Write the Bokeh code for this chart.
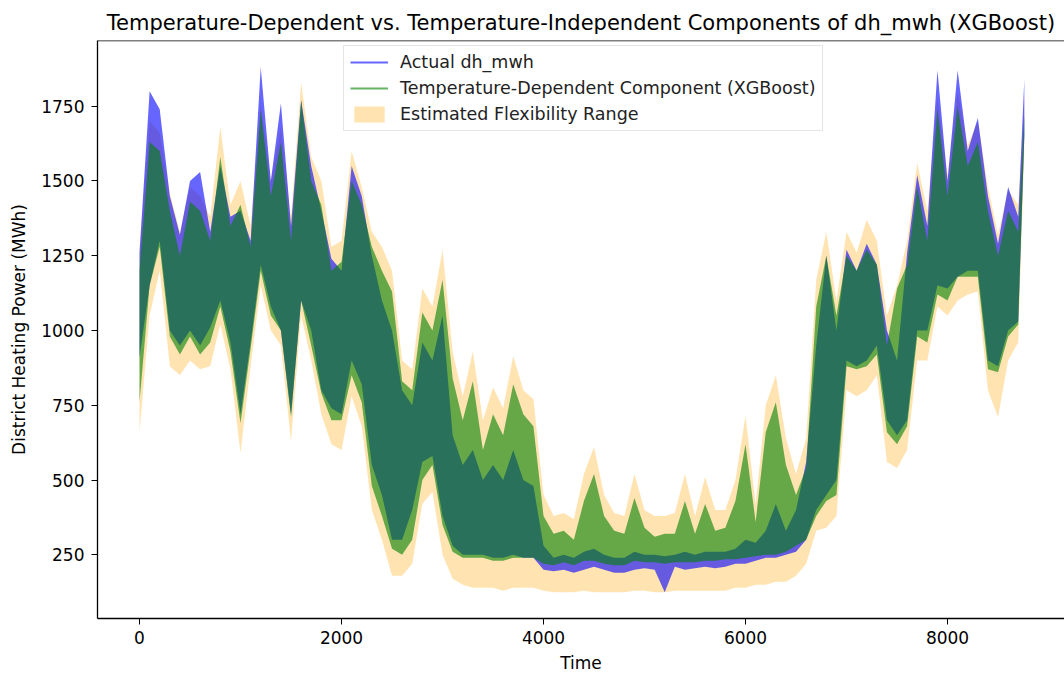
from bokeh.plotting import figure
from bokeh.models import Range1d, FixedTicker, Span, Legend, LegendItem, ColumnDataSource
from bokeh.embed import file_html
from bokeh.resources import INLINE

# ---- data (hourly index, envelope of each series) ----
hours = [0, 100, 200, 300, 400, 500, 600, 700, 800, 900,
         1000, 1100, 1200, 1300, 1400, 1500, 1600, 1700, 1800, 1900,
         2000, 2100, 2200, 2300, 2400, 2500, 2600, 2700, 2800, 2900,
         3000, 3100, 3200, 3300, 3400, 3500, 3600, 3700, 3800, 3900,
         4000, 4100, 4200, 4300, 4400, 4500, 4600, 4700, 4800, 4900,
         5000, 5100, 5200, 5300, 5400, 5500, 5600, 5700, 5800, 5900,
         6000, 6100, 6200, 6300, 6400, 6500, 6600, 6700, 6800, 6900,
         7000, 7100, 7200, 7300, 7400, 7500, 7600, 7700, 7800, 7900,
         8000, 8100, 8200, 8300, 8400, 8500, 8600, 8700, 8760]

actual_lo = [910, 1150, 1300, 1000, 950, 1000, 950, 1010, 1100, 960,
             720, 960, 1220, 1080, 1000, 720, 1100, 1000, 800, 740,
             720, 900, 820, 550, 450, 300, 300, 400, 560, 580,
             380, 280, 250, 250, 250, 240, 240, 250, 240, 240,
             200, 195, 200, 190, 200, 210, 200, 190, 190, 200,
             205, 200, 125, 210, 200, 205, 210, 205, 210, 220,
             220, 230, 240, 240, 250, 260, 300, 400, 450, 500,
             900, 880, 900, 950, 700, 650, 700, 1000, 1000, 1150,
             1140, 1180, 1200, 1200, 900, 880, 1000, 1030, 1650]
actual_hi = [1260, 1800, 1740, 1450, 1320, 1500, 1530, 1330, 1550, 1380,
             1400, 1300, 1880, 1500, 1760, 1350, 1770, 1550, 1400, 1240,
             1200, 1550, 1450, 1250, 1100, 1000, 800, 750, 960, 900,
             1050, 650, 550, 600, 500, 550, 500, 600, 500, 480,
             280, 240, 250, 240, 260, 270, 250, 240, 240, 260,
             250, 250, 245, 250, 260, 250, 260, 260, 260, 270,
             300, 290, 330, 420, 330, 400, 560, 950, 1250, 1000,
             1270, 1200, 1290, 1220, 1000, 900, 1260, 1520, 1350, 1870,
             1500, 1870, 1600, 1710, 1450, 1290, 1480, 1380, 1840]

tempdep_lo = [760, 1150, 1280, 980, 920, 980, 920, 960, 1080, 930,
              690, 940, 1200, 1050, 1000, 710, 1100, 950, 790, 700,
              700, 850, 760, 480, 380, 270, 250, 300, 500, 550,
              350, 260, 240, 240, 240, 230, 230, 240, 240, 240,
              220, 215, 225, 215, 230, 230, 220, 215, 215, 230,
              225, 225, 220, 225, 225, 225, 230, 230, 235, 235,
              240, 245, 250, 250, 260, 280, 300, 380, 430, 450,
              880, 870, 880, 920, 660, 620, 680, 980, 960, 1120,
              1100, 1180, 1180, 1180, 870, 860, 980, 1020, 1650]
tempdep_hi = [1200, 1630, 1600, 1400, 1250, 1430, 1400, 1300, 1580, 1350,
              1420, 1280, 1740, 1450, 1630, 1300, 1770, 1500, 1420, 1200,
              1230, 1500, 1420, 1280, 1200, 1130, 830, 800, 1060, 1000,
              1170, 840, 700, 830, 600, 720, 650, 820, 720, 680,
              380, 320, 330, 300, 430, 520, 380, 330, 320, 440,
              340, 310, 320, 320, 430, 320, 420, 330, 340, 430,
              620, 360, 660, 760, 550, 450, 540, 1080, 1250, 1050,
              1250, 1200, 1270, 1220, 950, 1140, 1220, 1480, 1300, 1740,
              1450, 1750, 1550, 1630, 1400, 1250, 1400, 1330, 1720]

flex_lo = [660, 1050, 1200, 880, 850, 900, 870, 880, 1020, 870,
           590, 880, 1150, 1000, 950, 630, 1050, 900, 720, 620,
           600, 780, 680, 400, 300, 180, 180, 220, 420, 460,
           250, 170, 150, 140, 140, 140, 130, 140, 140, 140,
           130, 125, 125, 125, 130, 125, 125, 125, 125, 130,
           130, 125, 125, 130, 130, 130, 130, 130, 130, 140,
           140, 150, 150, 160, 160, 180, 220, 330, 340, 380,
           800, 780, 800, 850, 560, 540, 600, 900, 900, 1080,
           1050, 1100, 1120, 1130, 800, 710, 900, 960, 1600]
flex_hi = [1280, 1700, 1660, 1460, 1330, 1480, 1450, 1380, 1680, 1420,
           1500, 1350, 1760, 1500, 1680, 1380, 1830, 1580, 1500, 1280,
           1300, 1600, 1480, 1330, 1280, 1200, 900, 870, 1140, 1080,
           1270, 930, 780, 930, 700, 810, 740, 915, 800, 770,
           450, 380, 390, 370, 520, 610, 450, 390, 380, 520,
           400, 380, 380, 390, 520, 380, 510, 400, 400, 500,
           715, 420, 750, 850, 640, 520, 640, 1170, 1330, 1100,
           1330, 1260, 1370, 1300, 1050, 1150, 1300, 1560, 1400, 1780,
           1520, 1800, 1620, 1700, 1480, 1320, 1470, 1420, 1780]

y_ticks = [250, 500, 750, 1000, 1250, 1500, 1750]
x_ticks = [0, 2000, 4000, 6000, 8000]

title_text = "Temperature-Dependent vs. Temperature-Independent Components of dh_mwh (XGBoost)"
x_label = "Time"
y_label = "District Heating Power (MWh)"
legend_labels = ["Actual dh_mwh", "Temperature-Dependent Component (XGBoost)", "Estimated Flexibility Range"]

FONT = "DejaVu Sans"
X0, X1 = -416, 9158
Y0, Y1 = 37, 1969.5

src = ColumnDataSource(dict(t=hours, a_lo=actual_lo, a_hi=actual_hi,
                            g_lo=tempdep_lo, g_hi=tempdep_hi,
                            f_lo=flex_lo, f_hi=flex_hi))

p = figure(width=1064, height=675, output_backend="svg", toolbar_location=None,
           x_range=Range1d(X0, X1), y_range=Range1d(Y0, Y1),
           min_border_left=97, min_border_right=0, min_border_bottom=54, min_border_top=40)

p.title.text = title_text
p.title.align = "center"
p.title.text_font = FONT
p.title.text_font_size = "21px"
p.title.text_font_style = "normal"
p.title.text_color = "black"
p.title.standoff = 12

p.outline_line_color = None
p.xgrid.visible = False
p.ygrid.visible = False
p.background_fill_color = "white"
p.border_fill_color = "white"

flex_r = p.varea(x="t", y1="f_lo", y2="f_hi", source=src, fill_color="orange", fill_alpha=0.3)
act_r = p.varea(x="t", y1="a_lo", y2="a_hi", source=src, fill_color="blue", fill_alpha=0.6)
tmp_r = p.varea(x="t", y1="g_lo", y2="g_hi", source=src, fill_color="green", fill_alpha=0.6)

# legend proxies drawn as lines (placed outside the visible x range)
leg_a = p.line(x=[X0 - 500, X0 - 400], y=[1000, 1000], line_color="blue", line_alpha=0.6, line_width=2)
leg_g = p.line(x=[X0 - 500, X0 - 400], y=[1000, 1000], line_color="green", line_alpha=0.6, line_width=2)

legend = Legend(items=[LegendItem(label=legend_labels[0], renderers=[leg_a]),
                       LegendItem(label=legend_labels[1], renderers=[leg_g]),
                       LegendItem(label=legend_labels[2], renderers=[flex_r])],
                location=(246, 487))
legend.label_text_font = FONT
legend.label_text_font_size = "17.5px"
legend.label_text_color = "#222222"
legend.glyph_width = 38
legend.glyph_height = 20
legend.label_height = 20
legend.spacing = 6
legend.padding = 6
legend.margin = 0
legend.label_standoff = 12
legend.border_line_color = "#cccccc"
legend.border_line_width = 1
legend.background_fill_alpha = 0.8
p.add_layout(legend)

# top spine
p.add_layout(Span(location=Y1, dimension="width", line_color="black", line_width=1.3))

for ax in (p.xaxis, p.yaxis):
    ax.axis_line_color = "black"
    ax.axis_line_width = 1.3
    ax.major_tick_line_color = "black"
    ax.major_tick_out = 6
    ax.major_tick_in = 0
    ax.minor_tick_line_color = None
    ax.major_label_text_font = FONT
    ax.major_label_text_font_size = "17px"
    ax.major_label_text_color = "black"
    ax.axis_label_text_font = FONT
    ax.axis_label_text_font_size = "17px"
    ax.axis_label_text_font_style = "normal"
    ax.axis_label_text_color = "black"

p.xaxis.ticker = FixedTicker(ticks=x_ticks)
p.yaxis.ticker = FixedTicker(ticks=y_ticks)
p.xaxis.axis_label = x_label
p.yaxis.axis_label = y_label
p.xaxis.major_label_standoff = 6
p.yaxis.major_label_standoff = 7
p.xaxis.axis_label_standoff = 6
p.yaxis.axis_label_standoff = 9

open("out.html", "w").write(file_html(p, INLINE))
